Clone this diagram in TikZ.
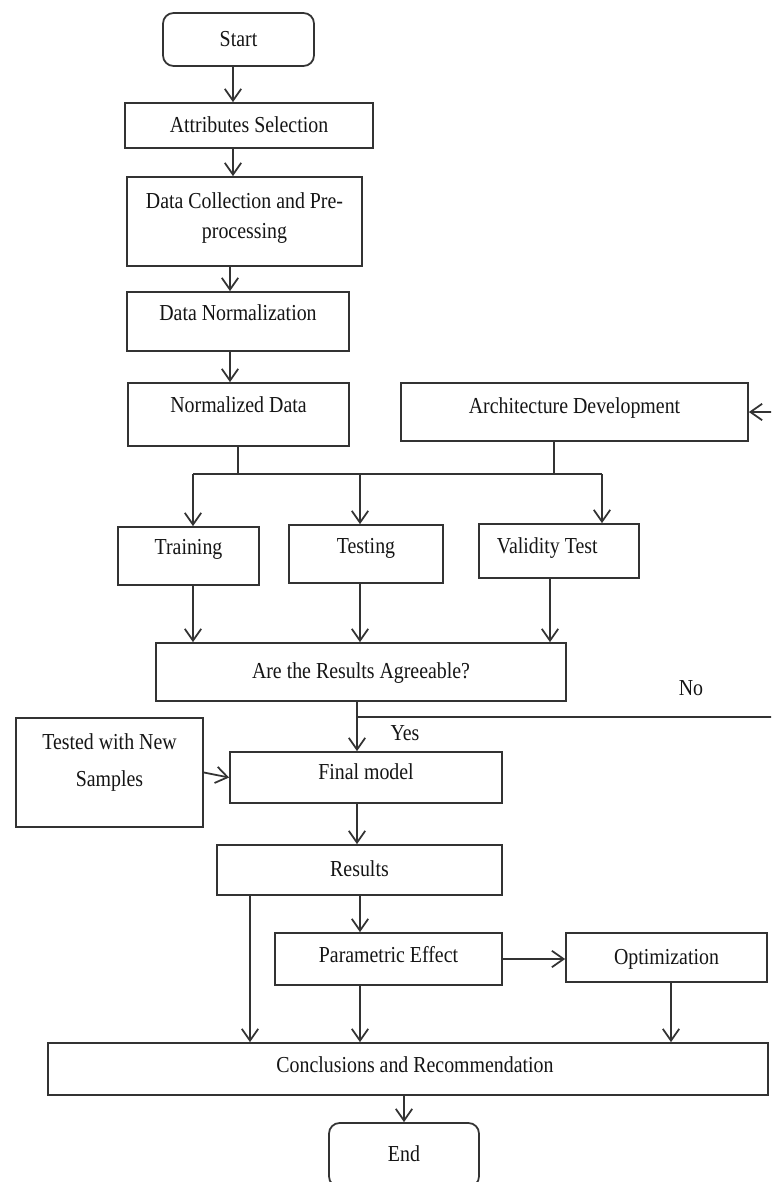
\documentclass[tikz,border=0pt]{standalone}
\usepackage{fontspec}
\setmainfont{Liberation Serif}[FakeStretch=0.87]
\usetikzlibrary{arrows.meta}
\definecolor{ink}{HTML}{333333}
\definecolor{inktext}{HTML}{151515}
\tikzset{
  box/.style={draw=ink, line width=1.5pt, inner sep=0pt, align=center, text=inktext},
  lbl/.style={text height=2.45ex, text depth=#1},
  lbl/.default=0pt,
  wire/.style={draw=ink, line width=1.5pt},
  arr/.style={wire, -{Straight Barb[length=10pt,width=14pt]}},
}

\begin{document}
\begin{tikzpicture}[x=0.03cm, y=-0.03cm, font=\fontsize{19.5pt}{25pt}\selectfont]
  % Page
  \fill[white] (0,0) rectangle (771,1182);
  \useasboundingbox (0,0) rectangle (771,1182);
  \clip (0,0) rectangle (771,1182);
  % Boxes
  \node[box, lbl, rounded corners=9pt, minimum width=4.53cm, minimum height=1.59cm] (start) at (238.5,39.5) {Start};
  \node[box, lbl, minimum width=7.44cm, minimum height=1.35cm] (attr) at (249,125.5) {Attributes Selection};
  \node[box, text depth=10pt, minimum width=7.05cm, minimum height=2.67cm] (collect) at (244.5,221.5) {Data Collection and Pre-\\processing};
  \node[box, lbl=12.8pt, minimum width=6.66cm, minimum height=1.77cm] (norm) at (238,321.5) {Data Normalization};
  \node[box, lbl=15.3pt, minimum width=6.63cm, minimum height=1.89cm] (normdata) at (238.5,414.5) {Normalized Data};
  \node[box, lbl=8.5pt, minimum width=10.41cm, minimum height=1.74cm] (arch) at (574.5,412) {Architecture Development};
  \node[box, lbl=13.6pt, minimum width=4.23cm, minimum height=1.74cm] (train) at (188.5,556) {Training};
  \node[box, lbl=12pt, minimum width=4.62cm, minimum height=1.74cm] (test) at (366,554) {Testing};
  \node[box, lbl=6.8pt, minimum width=4.8cm, minimum height=1.62cm] (valid) at (559,551) {Validity Test\hspace*{20pt}};
  \node[box, lbl, minimum width=12.3cm, minimum height=1.74cm] (agree) at (361,672) {Are the Results Agreeable?};
  \node[box, text depth=21.5pt, minimum width=5.61cm, minimum height=3.27cm] (tested) at (109.5,772.5) {Tested with New\\[7pt]Samples};
  \node[box, lbl=7.7pt, minimum width=8.16cm, minimum height=1.53cm] (final) at (366,777.5) {Final model};
  \node[box, lbl, minimum width=8.55cm, minimum height=1.5cm] (results) at (359.5,870) {Results};
  \node[box, lbl=5pt, minimum width=6.81cm, minimum height=1.56cm] (param) at (388.5,959) {Parametric Effect};
  \node[box, lbl, minimum width=6.03cm, minimum height=1.47cm] (optim) at (666.5,957.5) {Optimization};
  \node[box, lbl=5pt, minimum width=21.6cm, minimum height=1.56cm] (concl) at (408,1069) {\hspace*{12pt}Conclusions and Recommendation};
  \node[box, lbl, rounded corners=9pt, minimum width=4.5cm, minimum height=1.92cm] (end) at (404,1155) {End};
  % Labels
  \node[text=inktext] (no) at (691,688) {No};
  \node[text=inktext] (yes) at (405,733) {Yes};
  % Columns of the vertical arrows
  \coordinate (xa) at (233,0);
  \coordinate (xb) at (230,0);
  \coordinate (xnorm) at (238,0);
  \coordinate (xarch) at (554,0);
  \coordinate (xtrain) at (193,0);
  \coordinate (xtest) at (360,0);
  \coordinate (xvalid) at (602,0);
  \coordinate (xcheck) at (550,0);
  \coordinate (xyes) at (357,0);
  \coordinate (xres) at (250,0);
  \coordinate (xopt) at (671,0);
  \coordinate (bus) at (0,474);
  % Data preparation
  \draw[arr] (start.south -| xa) -- (attr.north -| xa);
  \draw[arr] (attr.south -| xa) -- (collect.north -| xa);
  \draw[arr] (collect.south -| xb) -- (norm.north -| xb);
  \draw[arr] (norm.south -| xb) -- (normdata.north -| xb);
  % Split
  \draw[wire] (normdata.south -| xnorm) -- (xnorm |- bus);
  \draw[wire] (arch.south -| xarch) -- (xarch |- bus);
  \draw[wire] (xtrain |- bus) -- (xvalid |- bus);
  \draw[arr] (xtrain |- bus) -- (train.north -| xtrain);
  \draw[arr] (xtest |- bus) -- (test.north -| xtest);
  \draw[arr] (xvalid |- bus) -- (valid.north -| xvalid);
  % Check
  \draw[arr] (train.south -| xtrain) -- (agree.north -| xtrain);
  \draw[arr] (test.south -| xtest) -- (agree.north -| xtest);
  \draw[arr] (valid.south -| xcheck) -- (agree.north -| xcheck);
  \draw[arr] (agree.south -| xyes) -- (final.north -| xyes);
  % No: back to the architecture
  \coordinate (fork) at (357,717);
  \coordinate (back) at (800,717);
  \draw[arr] (fork) -- (back) |- (arch.east);
  % Model and results
  \draw[arr] (tested.east) -- (final.west);
  \draw[arr] (final.south -| xyes) -- (results.north -| xyes);
  \draw[arr] (results.south -| xres) -- (concl.north -| xres);
  \draw[arr] (results.south -| xtest) -- (param.north -| xtest);
  \draw[arr] (param.east) -- (param.east -| optim.west);
  \draw[arr] (param.south -| xtest) -- (concl.north -| xtest);
  \draw[arr] (optim.south -| xopt) -- (concl.north -| xopt);
  \draw[arr] (concl.south -| end.north) -- (end.north);
\end{tikzpicture}
\end{document}
